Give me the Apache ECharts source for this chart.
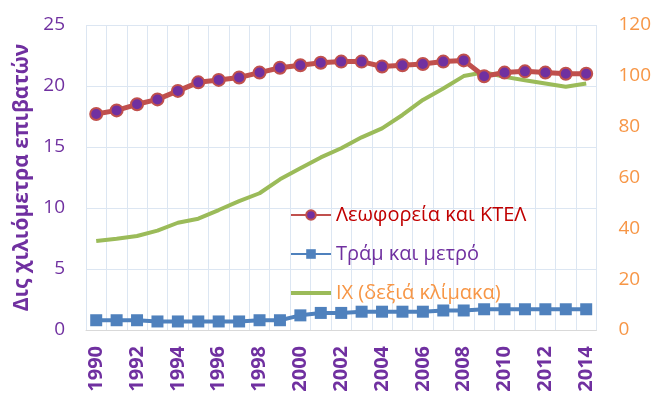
<!DOCTYPE html>
<html><head><meta charset="utf-8">
<script src="https://cdn.jsdelivr.net/npm/echarts@6/dist/echarts.min.js"></script>
<style>html,body{margin:0;padding:0;background:#fff}#c{width:654px;height:402px}</style>
</head><body><div id="c"></div>
<script>
const years = ['1990','1991','1992','1993','1994','1995','1996','1997','1998','1999','2000','2001','2002','2003','2004','2005','2006','2007','2008','2009','2010','2011','2012','2013','2014'];
const buses = [17.7,18.0,18.5,18.9,19.6,20.3,20.5,20.7,21.1,21.5,21.7,21.9,22.0,22.0,21.6,21.7,21.8,22.0,22.1,20.8,21.1,21.2,21.1,21.0,21.0];
const tramMetro = [0.8,0.8,0.8,0.7,0.7,0.7,0.7,0.7,0.8,0.8,1.2,1.4,1.4,1.5,1.5,1.5,1.5,1.6,1.6,1.7,1.7,1.7,1.7,1.7,1.7];
const cars = [35.0,35.9,37.0,39.1,42.2,43.8,47.2,50.7,53.8,59.3,63.6,67.9,71.5,75.8,79.3,84.6,90.5,95.0,99.9,101.4,99.6,98.3,97.0,95.7,97.0];
const leftTicks = {min:0, max:25, interval:5};
const rightTicks = {min:0, max:120, interval:20};
const names = ['Λεωφορεία και ΚΤΕΛ','Τράμ και μετρό','ΙΧ (δεξιά κλίμακα)'];
const yName = 'Δις χιλιόμετρα επιβατών';

const font = '"Open Sans", "Noto Sans", sans-serif';
const chart = echarts.init(document.getElementById('c'), null, {renderer:'canvas'});
chart.setOption({
  animation:false,
  textStyle:{fontFamily:font},
  grid:{left:86,right:57,top:25,bottom:72,containLabel:false},
  legend:{
    orient:'vertical', left:285, top:200, itemGap:19, itemWidth:40, itemHeight:12,
    textStyle:{fontFamily:font, fontSize:20},
    data:[
      {name:names[0], textStyle:{color:'#C00000'}},
      {name:names[1], textStyle:{color:'#7030A0'}},
      {name:names[2], icon:'path://M0 0 H40 V4 H0 Z', textStyle:{color:'#F79646'}}
    ]
  },
  xAxis:{
    type:'category', data:years, boundaryGap:true,
    axisLine:{lineStyle:{color:'#D9D9D9'}},
    axisTick:{show:false},
    splitLine:{show:true, interval:0, lineStyle:{color:'#DCE6F2'}},
    axisLabel:{interval:1, rotate:90, color:'#7030A0', fontSize:20, fontWeight:'bold', margin:16, fontFamily:font}
  },
  yAxis:[
    {type:'value', min:leftTicks.min, max:leftTicks.max, interval:leftTicks.interval,
     name:yName, nameLocation:'middle', nameGap:50, nameRotate:90,
     nameTextStyle:{color:'#7030A0', fontSize:21, fontWeight:'bold', fontFamily:font},
     axisLine:{show:false}, axisTick:{show:false},
     splitLine:{lineStyle:{color:'#DCE6F2'}},
     axisLabel:{color:'#7030A0', fontSize:19, margin:21, fontFamily:font}},
    {type:'value', min:rightTicks.min, max:rightTicks.max, interval:rightTicks.interval,
     axisLine:{show:false}, axisTick:{show:false}, splitLine:{show:false},
     axisLabel:{color:'#F79646', fontSize:19, margin:22, fontFamily:font}}
  ],
  series:[
    {name:names[0], type:'line', data:buses, yAxisIndex:0, symbol:'circle', symbolSize:12,
     lineStyle:{color:'#C0504D', width:5},
     itemStyle:{color:'#7030A0', borderColor:'#C0504D', borderWidth:2}, z:3},
    {name:names[1], type:'line', data:tramMetro, yAxisIndex:0, symbol:'rect', symbolSize:12,
     lineStyle:{color:'#4F81BD', width:4},
     itemStyle:{color:'#4F81BD'}, z:3},
    {name:names[2], type:'line', data:cars, yAxisIndex:1, symbol:'none', showSymbol:false,
     lineStyle:{color:'#9BBB59', width:4},
     itemStyle:{color:'#9BBB59'}, z:2}
  ]
});
</script></body></html>
